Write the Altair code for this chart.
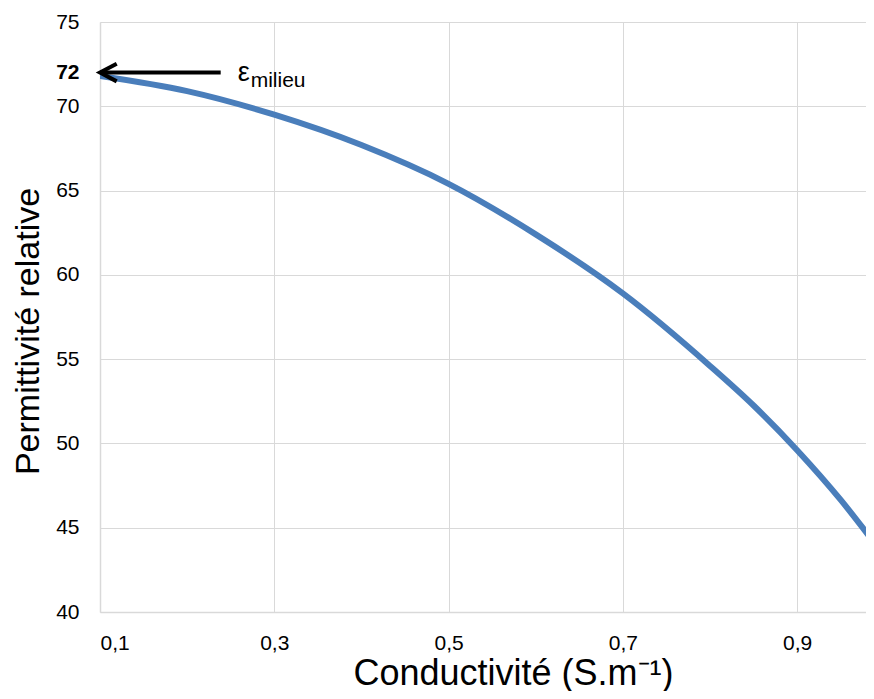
import altair as alt
import pandas as pd

# Curve
sigma = [0.1, 0.2, 0.3, 0.4, 0.5, 0.6, 0.7, 0.8, 0.85, 0.9, 0.95, 0.99]
permittivity = [71.8, 70.9, 69.5, 67.7, 65.4, 62.4, 58.9, 54.6, 52.25, 49.6, 46.65, 44.0]

x_ticks = [0.1, 0.3, 0.5, 0.7, 0.9]
y_ticks = [40, 45, 50, 55, 60, 65, 70, 72, 75]
x_domain = [0.1, 0.979]
y_domain = [40, 75]

# Annotation: arrow pointing to epsilon_milieu = 72
arrow_start = [0.1]
arrow_end = [0.2385]
arrow_level = [72]
eps_symbol = ["ε"]
eps_sub = ["milieu"]

FONT = "Liberation Sans"

df = pd.DataFrame({"sigma": sigma, "eps": permittivity})
ann = pd.DataFrame({"sigma": arrow_start, "sigma_end": arrow_end, "eps": arrow_level,
                    "sym": eps_symbol, "sub": eps_sub})

xs = alt.Scale(domain=x_domain, nice=False, zero=False)
ys = alt.Scale(domain=y_domain, nice=False, zero=False)

line = alt.Chart(df).mark_line(
    color="#4A7EBB", strokeWidth=6, interpolate="monotone", clip=True
).encode(
    x=alt.X("sigma:Q", scale=xs, axis=alt.Axis(
        values=x_ticks,
        labelExpr="replace(format(datum.value, '.1f'), '.', ',')",
        title="Conductivité (S.m⁻¹)",
        titleX=413, titleY=72, titleAlign="center", titleBaseline="alphabetic",
        titleFontSize=36,
        labelPadding=20, labelFontSize=21,
    )),
    y=alt.Y("eps:Q", scale=ys, axis=alt.Axis(
        values=y_ticks,
        title="Permittivité relative",
        titleX=-62, titleY=309, titleAlign="center", titleBaseline="alphabetic",
        titleFontSize=34,
        labelPadding=21, labelFontSize=21,
        labelFontWeight={"condition": {"test": "datum.value == 72", "value": "bold"}, "value": "normal"},
        gridOpacity={"condition": {"test": "datum.value == 72", "value": 0}, "value": 1},
    )),
)

shaft = alt.Chart(ann).mark_rule(color="black", strokeWidth=4).encode(
    x=alt.X("sigma:Q", scale=xs), x2="sigma_end:Q", y=alt.Y("eps:Q", scale=ys)
)

head = alt.Chart(ann).mark_point(
    shape="M 1.9 -1 L 0 0 L 1.9 1", filled=False, stroke="black", strokeWidth=4,
    size=310, opacity=1, strokeJoin="miter"
).encode(x=alt.X("sigma:Q", scale=xs), y=alt.Y("eps:Q", scale=ys))

sym = alt.Chart(ann).mark_text(
    align="left", baseline="alphabetic", dx=17, dy=8, fontSize=27, font=FONT, color="black"
).encode(x=alt.X("sigma_end:Q", scale=xs), y=alt.Y("eps:Q", scale=ys), text="sym:N")

sub = alt.Chart(ann).mark_text(
    align="left", baseline="alphabetic", dx=30, dy=14.5, fontSize=21, font=FONT, color="black"
).encode(x=alt.X("sigma_end:Q", scale=xs), y=alt.Y("eps:Q", scale=ys), text="sub:N")

chart = alt.layer(line, shaft, head, sym, sub).properties(
    width=766, height=590,
    autosize="none",
    padding={"left": 92, "top": 14, "right": 0, "bottom": 79},
).configure_view(stroke=None).configure_axis(
    gridColor="#D9D9D9", domainColor="#D9D9D9", ticks=False, tickSize=0,
    labelColor="black", titleColor="black", labelFont=FONT, titleFont=FONT,
    titleFontWeight="normal", gridWidth=1, domainWidth=1.5,
)

chart.save("out.html", embed_options={"renderer": "svg", "actions": False})
